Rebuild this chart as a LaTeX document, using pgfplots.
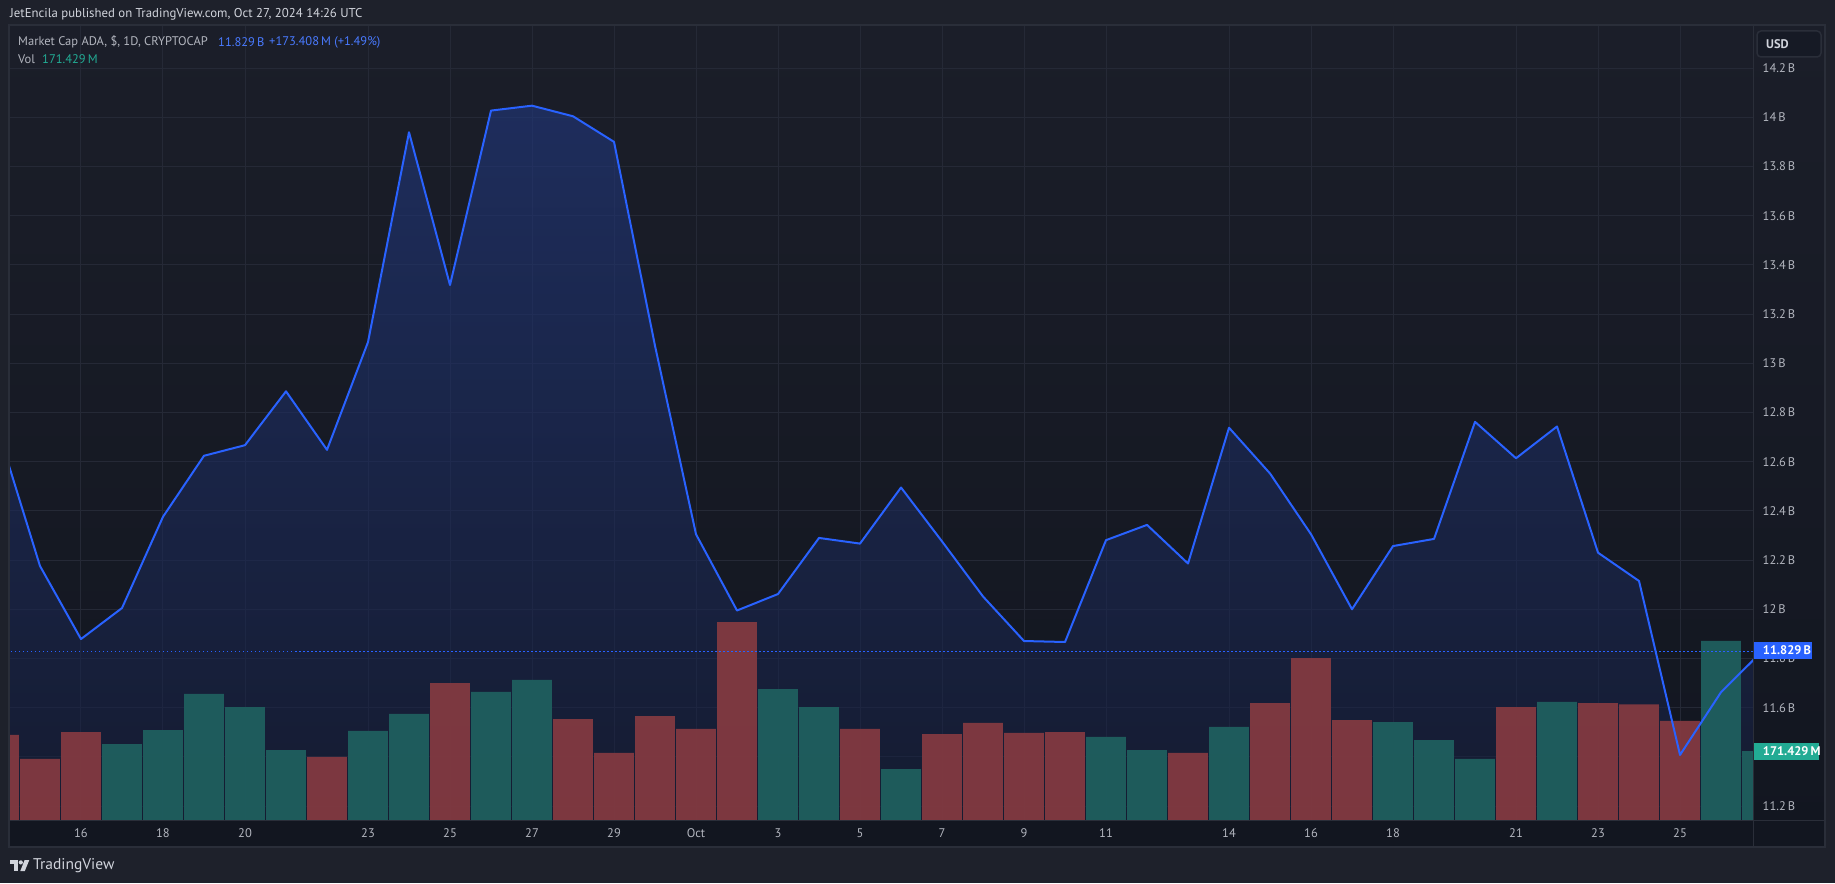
\documentclass[border=0pt]{standalone}
\usepackage{fontspec}
\setmainfont{PT Sans}
\usepackage{pgfplots}
\usepackage{pgfplotstable}
\pgfplotsset{compat=1.18}
\definecolor{outerbg}{HTML}{1E212B}
\definecolor{panetop}{HTML}{1B1E29}
\definecolor{panebot}{HTML}{121620}
\definecolor{gridc}{HTML}{252936}
\definecolor{borderc}{HTML}{2A2E39}
\definecolor{txt}{HTML}{B2B5BE}
\definecolor{txtl}{HTML}{D1D4DC}
\definecolor{tvblue}{HTML}{2962FF}
\definecolor{tvteal}{HTML}{22AB94}
\definecolor{barred}{HTML}{843A41}
\definecolor{barteal}{HTML}{1F605F}
\definecolor{areatop}{HTML}{21387F}
\definecolor{areabot}{HTML}{161E39}
\definecolor{usdbg}{HTML}{161A25}

% day: Sept d = d, Oct d = 30+d
\pgfplotstableread{
day price
14 12.715
15 12.176
16 11.879
17 12.005
18 12.376
19 12.624
20 12.667
21 12.886
22 12.648
23 13.086
24 13.939
25 13.318
26 14.027
27 14.047
28 14.004
29 13.900
30 13.071
31 12.305
32 11.995
33 12.062
34 12.290
35 12.267
36 12.495
37 12.276
38 12.052
39 11.871
40 11.867
41 12.281
42 12.343
43 12.186
44 12.738
45 12.552
46 12.305
47 12.000
48 12.257
49 12.286
50 12.762
51 12.614
52 12.743
53 12.230
54 12.115
55 11.408
56 11.663
57 11.829
}\pricedata

\pgfplotstableread{
day vol
14 212
15 152
16 219
22 157
25 341
28 251
29 167
30 259
31 227
32 493
35 227
37 214
38 242
39 217
40 219
43 167
45 291
46 403
47 249
51 281
53 291
54 288
55 247
}\volred

\pgfplotstableread{
day vol
17 189
18 224
19 314
20 281
21 174
23 222
24 264
26 319
27 349
33 326
34 281
36 127
41 207
42 174
44 232
48 244
49 199
50 152
52 294
56 446
57 171.429
}\volteal

\pgfplotsset{common/.style={at={(9pt,63pt)}, anchor=south west,
  width=1744pt, height=795pt, scale only axis,
  xmin=14.244, xmax=56.78}}

\begin{document}
\begin{tikzpicture}[x=1pt,y=1pt]
\useasboundingbox (0,0) rectangle (1835,883);
\fill[outerbg] (0,0) rectangle (1835,883);
\shade[top color=panetop,bottom color=panebot] (9,36) rectangle (1825,858);

% grid + tick labels
\begin{axis}[common, ymin=11.1435, ymax=14.375,
  axis line style={draw=none},
  xtick={16,18,20,23,25,27,29,31,33,35,37,39,41,44,46,48,51,53,55},
  xticklabels={16,18,20,23,25,27,29,Oct,3,5,7,9,11,14,16,18,21,23,25},
  ytick={11.2,11.4,11.6,11.8,12,12.2,12.4,12.6,12.8,13,13.2,13.4,13.6,13.8,14,14.2},
  yticklabels={11.2\,B,,11.6\,B,11.8\,B,12\,B,12.2\,B,12.4\,B,12.6\,B,12.8\,B,13\,B,13.2\,B,13.4\,B,13.6\,B,13.8\,B,14\,B,14.2\,B},
  yticklabel pos=right,
  grid=major, major grid style={gridc, line width=1pt},
  major tick length=0pt,
  tick label style={txt, font=\fontsize{12.5}{14}\selectfont, inner sep=0pt},
  xticklabel style={anchor=center, yshift=-13pt},
  yticklabel style={anchor=west, xshift=9.5pt},
]
\end{axis}

% price area (behind the bars)
\begin{axis}[common, ymin=11.1435, ymax=14.375, hide axis]
\addplot[draw=none, top color=areatop, bottom color=areabot, fill opacity=0.6] coordinates {
(14,11.0) (14,12.715) (15,12.176) (16,11.879) (17,12.005) (18,12.376) (19,12.624)
(20,12.667) (21,12.886) (22,12.648) (23,13.086) (24,13.939) (25,13.318) (26,14.027)
(27,14.047) (28,14.004) (29,13.900) (30,13.071) (31,12.305) (32,11.995) (33,12.062)
(34,12.290) (35,12.267) (36,12.495) (37,12.276) (38,12.052) (39,11.871) (40,11.867)
(41,12.281) (42,12.343) (43,12.186) (44,12.738) (45,12.552) (46,12.305) (47,12.000)
(48,12.257) (49,12.286) (50,12.762) (51,12.614) (52,12.743) (53,12.230) (54,12.115)
(55,11.408) (56,11.663) (57,11.829) (57,11.0)};
\end{axis}

% volume
\begin{axis}[common, ymin=0, ymax=1980, hide axis]
\addplot[ybar, bar width=0.97, bar shift=0pt, fill=barred, draw=none, fill opacity=0.93] table[x=day,y=vol]{\volred};
\addplot[ybar, bar width=0.97, bar shift=0pt, fill=barteal, draw=none, fill opacity=0.93] table[x=day,y=vol]{\volteal};
\end{axis}

% price line
\begin{axis}[common, ymin=11.1435, ymax=14.375, hide axis]
\addplot[tvblue, line width=1.3pt, dash pattern=on 1.5pt off 2.5pt] coordinates {(14,11.829) (57,11.829)};
\addplot[tvblue, line width=2pt, line join=round] table[x=day,y=price]{\pricedata};
\end{axis}

% frame lines
\draw[borderc, line width=1.5pt] (9,36) rectangle (1825,858);
\draw[borderc, line width=1pt] (1753,36) -- (1753,858);
\draw[borderc, line width=1pt] (9,63) -- (1825,63);

% header
\node[anchor=west, inner sep=0pt, txtl, font=\fontsize{12.8}{15}\selectfont] at (10,869) {JetEncila published on TradingView.com, Oct 27, 2024 14:26 UTC};
% legend
\node[anchor=west, inner sep=0pt, txt, font=\fontsize{12.5}{14}\selectfont] at (18,841) {Market Cap ADA, \$, 1D, CRYPTOCAP};
\node[anchor=west, inner sep=0pt, tvblue!85!white, font=\fontsize{12.5}{14}\selectfont] at (218,841) {11.829\,B};
\node[anchor=west, inner sep=0pt, tvblue!85!white, font=\fontsize{12.5}{14}\selectfont] at (269,841) {+173.408\,M (+1.49\%)};
\node[anchor=west, inner sep=0pt, txt, font=\fontsize{12.5}{14}\selectfont] at (18,824) {Vol};
\node[anchor=west, inner sep=0pt, tvteal, font=\fontsize{12.5}{14}\selectfont] at (42,824) {171.429\,M};

% USD button
\draw[borderc, fill=usdbg, rounded corners=4pt, line width=1.5pt] (1757,826) rectangle (1821,852);
\node[anchor=west, inner sep=0pt, txtl, font=\fontsize{12.5}{14}\selectfont\bfseries] at (1766,838.7) {USD};

% price tags
\fill[tvblue] (1754,224) rectangle (1812,240.7);
\node[anchor=west, inner sep=0pt, white, font=\fontsize{12.5}{14}\selectfont\bfseries] at (1762.7,232.4) {11.829\,B};
\fill[tvteal] (1754,123) rectangle (1819,139.7);
\node[anchor=west, inner sep=0pt, white, font=\fontsize{12.5}{14}\selectfont\bfseries] at (1762.7,131.4) {171.429\,M};

% TradingView logo
\fill[txtl] (10,23) rectangle (18,19);
\fill[txtl] (14,23) rectangle (18,12);
\fill[txtl] (20.8,20.6) circle (2.1);
\fill[txtl] (24.6,23) -- (29.3,23) -- (24.8,12) -- (20.3,12) -- cycle;
\node[anchor=west, inner sep=0pt, txtl, font=\fontsize{15.5}{17}\selectfont] at (33,17) {TradingView};
\end{tikzpicture}
\end{document}
